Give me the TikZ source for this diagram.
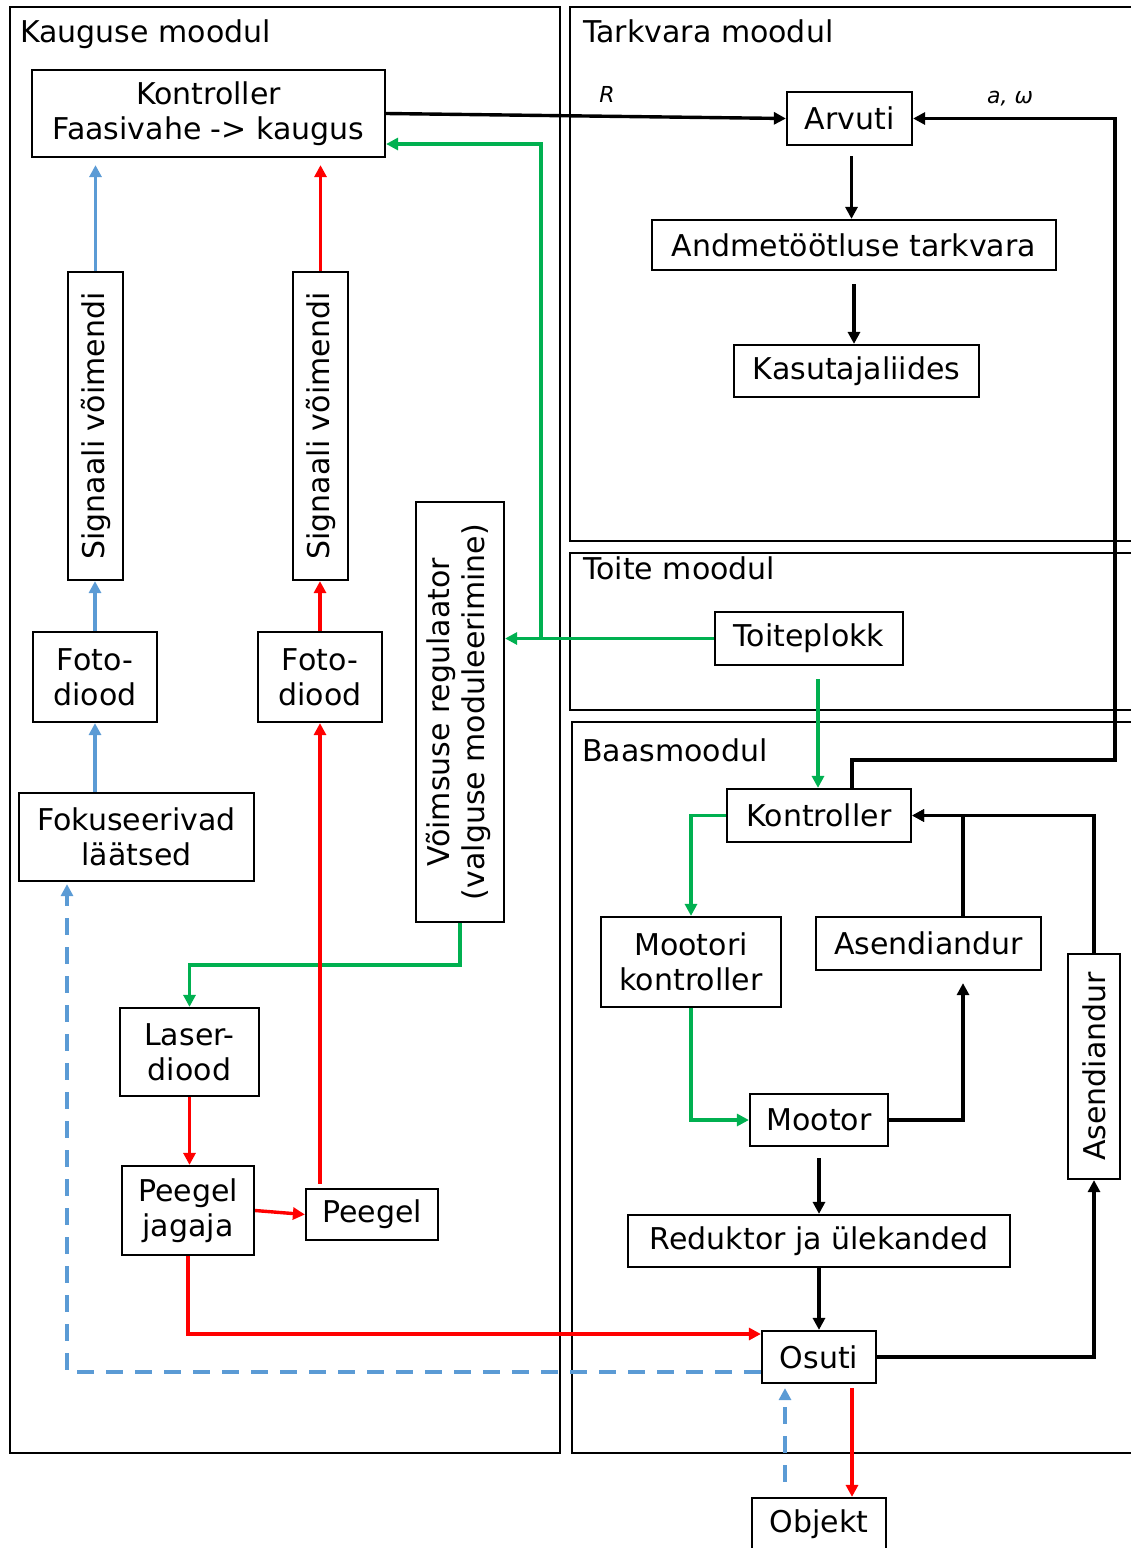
\documentclass[tikz,border=0pt]{standalone}
\usepackage{fontspec}
\setmainfont{DejaVu Sans}
\usepackage{graphicx}
\usetikzlibrary{arrows.meta}
\definecolor{pgreen}{RGB}{0,176,80}
\definecolor{pred}{RGB}{255,0,0}
\definecolor{pblue}{RGB}{91,155,213}

\begin{document}
\begin{tikzpicture}[x=1pt,y=-1pt,
  font=\fontsize{30}{35}\selectfont,
  box/.style={draw, line width=2.2pt, fill=white, inner sep=0pt, align=center},
  frame/.style={draw, line width=2.2pt},
  conn/.style={line width=3.4pt, -{Triangle[length=12pt,width=12pt]}},
  blk/.style={conn, black},
  grn/.style={conn, pgreen},
  rd/.style={conn, pred},
  blu/.style={conn, pblue},
  dsh/.style={conn, pblue, dash pattern=on 17pt off 12pt},
  lbl/.style={anchor=base west, inner sep=0pt},
  sig/.style={inner sep=1pt, font=\fontsize{22}{26}\selectfont\itshape},
]
\useasboundingbox (0,0) rectangle (1131,1548);
\clip (0,0) rectangle (1131,1548);

% module frames
\draw[frame] (10,7) rectangle (560,1453);
\draw[frame] (570,7) rectangle (1150,541);
\draw[frame] (570,553) rectangle (1150,710);
\draw[frame] (572,722) rectangle (1150,1453);
\node[lbl] (tKaugus) at (20,42) {Kauguse moodul};
\node[lbl] (tTarkvara) at (583,42) {Tarkvara moodul};
\node[lbl] (tToite) at (583,579) {Toite moodul};
\node[lbl] (tBaas) at (582,761) {Baasmoodul};

% distance module
\node[box, minimum width=353pt, minimum height=87pt] (kk) at (208.5,113.5) {Kontroller\\Faasivahe -> kaugus};
\node[box, minimum width=55pt, minimum height=308pt] (sv1) at (95.5,426) {\rotatebox{90}{Signaali võimendi}};
\node[box, minimum width=55pt, minimum height=308pt] (sv2) at (320.5,426) {\rotatebox{90}{Signaali võimendi}};
\node[box, minimum width=124pt, minimum height=90pt] (foto1) at (95,677) {Foto-\\diood};
\node[box, minimum width=124pt, minimum height=90pt] (foto2) at (320,677) {Foto-\\diood};
\node[box, minimum width=235pt, minimum height=88pt] (fok) at (136.5,837) {Fokuseerivad\\läätsed};
\node[box, minimum width=88pt, minimum height=420pt] (reg) at (460,712)
  {\rotatebox{90}{\begin{tabular}{@{}c@{}}Võimsuse regulaator\\(valguse moduleerimine)\end{tabular}}};
\node[box, minimum width=139pt, minimum height=88pt] (laser) at (189.5,1052) {Laser-\\diood};
\node[box, minimum width=132pt, minimum height=89pt] (pj) at (188,1210.5) {Peegel\\jagaja};
\node[box, minimum width=132pt, minimum height=51pt] (peegel) at (372,1214.5) {Peegel};

% software module
\node[box, minimum width=125pt, minimum height=53pt] (arv) at (849.5,118.5) {Arvuti};
\node[box, minimum width=404pt, minimum height=50pt] (andme) at (854,245) {Andmetöötluse tarkvara};
\node[box, minimum width=245pt, minimum height=52pt] (kasut) at (856.5,371) {Kasutajaliides};

% power module
\node[box, minimum width=188pt, minimum height=53pt] (toite) at (809,638.5) {Toiteplokk};

% base module
\node[box, minimum width=184pt, minimum height=53pt] (ktrl) at (819,815.5) {Kontroller};
\node[box, minimum width=180pt, minimum height=90pt] (mk) at (691,962) {Mootori\\kontroller};
\node[box, minimum width=225pt, minimum height=53pt] (asH) at (928.5,943.5) {Asendiandur};
\node[box, minimum width=52pt, minimum height=225pt] (asV) at (1094,1066.5) {\rotatebox{90}{Asendiandur}};
\node[box, minimum width=138pt, minimum height=52pt] (mootor) at (819,1120) {Mootor};
\node[box, minimum width=382pt, minimum height=52pt] (redu) at (819,1241) {Reduktor ja ülekanded};
\node[box, minimum width=114pt, minimum height=52pt] (osuti) at (819,1357) {Osuti};
\node[box, minimum width=134pt, minimum height=53pt] (objekt) at (819,1524.5) {Objekt};

% helper corners
\coordinate (rtop) at (1115,760);
\coordinate (gx) at (541,0);
\coordinate (dl) at (67,1372);

% power lines
\draw[grn] (toite.west) -- (toite.west -| gx) |- ([yshift=-30.5pt]kk.east);
\draw[grn] (toite.west -| gx) -- (toite.west -| reg.east);
\draw[grn] (reg.south) -- ++(0,42) -| (laser.north);
\draw[grn, shorten <=13pt] ([xshift=9pt]toite.south) -- ([xshift=9pt]toite.south |- ktrl.north);
\draw[grn] (ktrl.west) -| (mk.north);
\draw[grn] (mk.south) |- (mootor.west);

% data lines
\draw[blk] (kk.east) -- (arv.west);
\node[sig] (lR) at (607,94) {R};
\draw[blk] ([xshift=33pt]ktrl.north) |- (rtop) |- (arv.east);
\node[sig] (lAw) at (1010,99) {a, ω};
\draw[blk, shorten <=10pt] ([xshift=2pt]arv.south) -- ([xshift=2pt]arv.south |- andme.north);
\draw[blk, shorten <=13pt] (andme.south) -- (andme.south |- kasut.north);
\draw[blk, shorten <=11pt] (mootor.south) -- (mootor.south |- redu.north);
\draw[blk] (redu.south) -- (osuti.north);
\draw[blk] (mootor.east) -| ([xshift=34.5pt, yshift=-12pt]asH.south);
\draw[blk] (osuti.east) -| (asV.south);
\draw[blk] ([xshift=34.5pt]asH.north) |- (ktrl.east);
\draw[blk] (asV.north) |- (ktrl.east);

% light path (red)
\draw[rd] (laser.south) -- (laser.south |- pj.north);
\draw[rd] (pj.east) -- (peegel.west);
\draw[rd] (pj.south) |- ([yshift=23pt]osuti.west);
\draw[rd, shorten <=4pt] (peegel.north -| foto2.south) -- (foto2.south);
\draw[rd] (foto2.north) -- (foto2.north |- sv2.south);
\draw[rd, shorten >=7pt] (sv2.north) -- (sv2.north |- kk.south);
\draw[rd, shorten <=4pt] ([xshift=33pt]osuti.south) -- ([xshift=33pt]osuti.south |- objekt.north);

% reflected light (blue)
\draw[dsh, shorten <=15pt] ([xshift=-34pt]objekt.north) -- ([xshift=-34pt, yshift=-4pt]osuti.south);
\draw[dsh, shorten >=2pt] (osuti.west |- dl) -- (dl) -- (dl |- fok.south);
\draw[blu] (fok.north -| foto1.south) -- (foto1.south);
\draw[blu] (foto1.north) -- (foto1.north |- sv1.south);
\draw[blu, shorten >=7pt] (sv1.north) -- (sv1.north |- kk.south);
\end{tikzpicture}
\end{document}
